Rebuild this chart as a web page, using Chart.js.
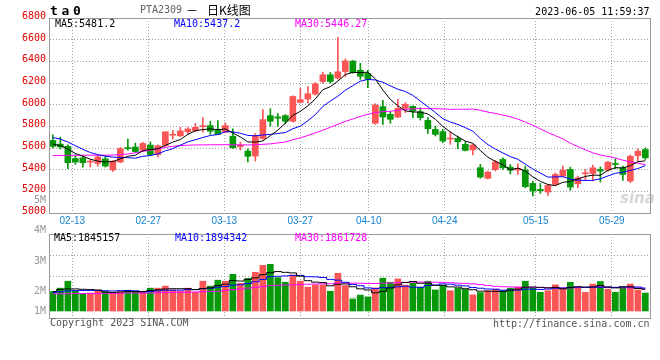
<!DOCTYPE html>
<html>
<head>
<meta charset="utf-8">
<script src="https://cdn.jsdelivr.net/npm/chart.js@4.4.1/dist/chart.umd.min.js"></script>
<style>
  html, body { margin: 0; padding: 0; background: #fff; }
  #wrap { position: relative; width: 660px; height: 360px; overflow: hidden; background: #fff; }
  #wrap canvas { position: absolute; left: 0; }
  #kline { top: 0; }
  #vol { top: 190px; }
</style>
</head>
<body>
<div id="wrap">
  <canvas id="kline" width="660" height="228"></canvas>
  <canvas id="vol" width="660" height="170"></canvas>
</div>
<script>
// PTA2309 daily K line, 2023-02-08 .. 2023-06-05 (80 trading days)
const openPrices = [
  5670, 5636, 5615, 5503, 5509, 5470, 5458, 5500, 5397, 5470,
  5603, 5609, 5579, 5627, 5539, 5624, 5718, 5712, 5749, 5758,
  5797, 5807, 5765, 5746, 5709, 5612, 5572, 5526, 5688, 5899,
  5887, 5899, 5847, 6021, 6052, 6098, 6214, 6276, 6245, 6306,
  6403, 6317, 6289, 5828, 5982, 5911, 5886, 5966, 5985, 5935,
  5855, 5772, 5751, 5683, 5689, 5634, 5582, 5418, 5320, 5400,
  5494, 5423, 5396, 5396, 5273, 5218, 5194, 5264, 5341, 5402,
  5270, 5362, 5365, 5402, 5396, 5454, 5417, 5295, 5530, 5586
];
const highPrices = [
  5721, 5700, 5630, 5539, 5524, 5494, 5530, 5524, 5485, 5606,
  5682, 5645, 5652, 5655, 5630, 5752, 5764, 5791, 5788, 5827,
  5880, 5847, 5853, 5832, 5777, 5654, 5593, 5734, 5954, 5963,
  5917, 5908, 6082, 6153, 6168, 6205, 6300, 6297, 6621, 6422,
  6406, 6382, 6317, 6009, 6040, 5935, 6049, 6018, 5990, 5972,
  5880, 5803, 5772, 5751, 5711, 5658, 5634, 5449, 5388, 5486,
  5509, 5448, 5454, 5432, 5295, 5273, 5264, 5371, 5432, 5423,
  5341, 5402, 5442, 5426, 5478, 5500, 5432, 5534, 5592, 5601
];
const lowPrices = [
  5600, 5591, 5409, 5449, 5424, 5424, 5433, 5424, 5382, 5464,
  5579, 5561, 5567, 5530, 5518, 5615, 5682, 5706, 5730, 5749,
  5745, 5725, 5725, 5740, 5596, 5581, 5471, 5480, 5679, 5801,
  5801, 5822, 5838, 6015, 6015, 6089, 6199, 6199, 6236, 6260,
  6290, 6234, 6157, 5818, 5818, 5828, 5880, 5926, 5880, 5858,
  5735, 5711, 5649, 5634, 5594, 5572, 5535, 5320, 5314, 5388,
  5402, 5360, 5356, 5233, 5157, 5181, 5163, 5255, 5334, 5209,
  5233, 5304, 5295, 5285, 5387, 5408, 5301, 5279, 5478, 5494
];
const closePrices = [
  5615, 5609, 5464, 5470, 5464, 5476, 5518, 5433, 5479, 5594,
  5594, 5567, 5642, 5539, 5621, 5749, 5724, 5758, 5776, 5791,
  5801, 5755, 5725, 5807, 5602, 5624, 5523, 5716, 5862, 5847,
  5875, 5847, 6076, 6046, 6101, 6193, 6276, 6214, 6303, 6404,
  6295, 6262, 6234, 5997, 5886, 5865, 5966, 6003, 5942, 5880,
  5778, 5726, 5665, 5689, 5658, 5578, 5628, 5332, 5378, 5471,
  5417, 5395, 5411, 5243, 5203, 5206, 5255, 5356, 5396, 5239,
  5325, 5371, 5417, 5387, 5469, 5448, 5356, 5524, 5570, 5509
];
const ma5 = [
  5636, 5622, 5590, 5550, 5524.4, 5496.6, 5478.4, 5472.2, 5474, 5500,
  5523.6, 5533.4, 5575.2, 5587.2, 5592.6, 5623.6, 5655, 5678.2, 5725.6, 5759.6,
  5770, 5776.2, 5769.6, 5775.8, 5738, 5702.6, 5656.2, 5654.4, 5665.4, 5714.4,
  5764.6, 5829.4, 5901.4, 5938.2, 5989, 6052.6, 6138.4, 6166, 6217.4, 6278,
  6298.4, 6295.6, 6299.6, 6238.4, 6134.8, 6048.8, 5989.6, 5943.4, 5932.4, 5931.2,
  5913.8, 5865.8, 5798.2, 5747.6, 5703.2, 5663.2, 5643.6, 5577, 5514.8, 5477.4,
  5445.2, 5398.6, 5414.4, 5387.4, 5333.8, 5291.6, 5263.6, 5252.6, 5283.2, 5290.4,
  5314.2, 5337.4, 5349.6, 5347.8, 5393.8, 5418.4, 5415.4, 5436.8, 5473.4, 5481.4
];
const ma10 = [
  5697, 5682, 5655, 5621, 5588, 5558, 5538, 5525, 5516, 5512.2,
  5510.1, 5505.9, 5523.7, 5530.6, 5546.3, 5573.6, 5594.2, 5626.7, 5656.4, 5676.1,
  5696.8, 5715.6, 5723.9, 5750.7, 5748.8, 5736.3, 5716.2, 5712, 5720.6, 5726.2,
  5733.6, 5742.8, 5777.9, 5801.8, 5851.7, 5908.6, 5983.9, 6033.7, 6077.8, 6133.5,
  6175.5, 6217, 6232.8, 6227.9, 6206.4, 6173.6, 6142.6, 6121.5, 6085.4, 6033,
  5981.3, 5927.7, 5870.8, 5840, 5817.2, 5788.5, 5754.7, 5687.6, 5631.2, 5590.3,
  5554.2, 5521.1, 5495.7, 5451.1, 5405.6, 5368.4, 5331.1, 5333.5, 5335.3, 5312.1,
  5302.9, 5300.5, 5301.1, 5315.5, 5342.1, 5366.3, 5376.4, 5393.2, 5410.6, 5437.6
];
const ma30 = [
  5530, 5531, 5532, 5532, 5533, 5533, 5534, 5534, 5535, 5538,
  5545, 5556, 5568, 5580, 5592, 5605, 5615, 5622, 5626, 5628,
  5629, 5630, 5630, 5631, 5630, 5629, 5628, 5630, 5634, 5638.2,
  5646.8, 5654.8, 5675.2, 5694.4, 5715.6, 5739.5, 5764.8, 5790.8, 5818.3, 5845.3,
  5868.6, 5891.8, 5911.5, 5926.8, 5935.6, 5939.5, 5947.6, 5955.7, 5961.3, 5964.2,
  5963.5, 5962.5, 5960.5, 5956.6, 5958.4, 5956.9, 5960.4, 5947.6, 5931.5, 5918.9,
  5903.7, 5888.6, 5866.4, 5839.7, 5809.7, 5776.8, 5742.8, 5714.2, 5684, 5645.1,
  5612.8, 5583.1, 5555.9, 5535.5, 5521.6, 5507.7, 5487.4, 5471.4, 5459, 5446.7
];

// volume, in millions
const volume = [
  1.76, 1.89, 2.16, 1.77, 1.65, 1.70, 1.81, 1.76, 1.68, 1.75,
  1.81, 1.77, 1.77, 1.89, 1.89, 1.97, 1.82, 1.77, 1.89, 1.73,
  2.16, 1.97, 2.20, 2.16, 2.43, 2.08, 2.27, 2.51, 2.78, 2.82,
  2.30, 2.12, 2.40, 2.16, 1.93, 2.02, 2.02, 1.77, 2.47, 1.99,
  1.47, 1.62, 1.55, 1.90, 2.28, 2.12, 2.25, 2.01, 2.09, 1.93,
  2.16, 1.82, 2.00, 1.79, 1.89, 1.84, 1.63, 1.72, 1.79, 1.85,
  1.79, 1.89, 1.94, 2.16, 1.89, 1.73, 1.79, 2.02, 1.89, 2.12,
  1.90, 1.73, 2.05, 2.15, 1.85, 1.73, 1.93, 2.05, 1.82, 1.70
];
const volMa5 = [
  1.76, 1.84, 1.86, 1.86, 1.846, 1.834, 1.818, 1.738, 1.72, 1.74,
  1.762, 1.754, 1.756, 1.798, 1.826, 1.858, 1.868, 1.868, 1.868, 1.836,
  1.874, 1.904, 1.99, 2.044, 2.184, 2.168, 2.228, 2.29, 2.414, 2.492,
  2.536, 2.506, 2.484, 2.36, 2.182, 2.126, 2.106, 1.98, 2.042, 2.054,
  1.944, 1.864, 1.82, 1.706, 1.764, 1.894, 2.02, 2.112, 2.15, 2.08,
  2.088, 2.002, 2.0, 1.94, 1.932, 1.868, 1.83, 1.774, 1.774, 1.766,
  1.756, 1.808, 1.852, 1.926, 1.934, 1.922, 1.902, 1.918, 1.864, 1.91,
  1.944, 1.932, 1.938, 1.99, 1.936, 1.902, 1.942, 1.942, 1.876, 1.846
];
const volMa10 = [
  1.72, 1.75, 1.78, 1.80, 1.80, 1.80, 1.80, 1.79, 1.78, 1.793,
  1.798, 1.786, 1.747, 1.759, 1.783, 1.81, 1.811, 1.812, 1.833, 1.831,
  1.866, 1.886, 1.929, 1.956, 2.01, 2.021, 2.066, 2.14, 2.229, 2.338,
  2.352, 2.367, 2.387, 2.387, 2.337, 2.331, 2.306, 2.232, 2.201, 2.118,
  2.035, 1.985, 1.90, 1.874, 1.909, 1.919, 1.942, 1.966, 1.928, 1.922,
  1.991, 2.011, 2.056, 2.045, 2.006, 1.978, 1.916, 1.887, 1.857, 1.849,
  1.812, 1.819, 1.813, 1.85, 1.85, 1.839, 1.855, 1.885, 1.895, 1.922,
  1.933, 1.917, 1.928, 1.927, 1.923, 1.923, 1.937, 1.94, 1.933, 1.891
];
const volMa30 = [
  1.67, 1.67, 1.67, 1.68, 1.68, 1.68, 1.68, 1.69, 1.69, 1.69,
  1.70, 1.70, 1.70, 1.70, 1.71, 1.72, 1.72, 1.73, 1.73, 1.74,
  1.75, 1.76, 1.77, 1.80, 1.83, 1.86, 1.89, 1.92, 1.95, 1.987,
  2.005, 2.013, 2.021, 2.034, 2.043, 2.054, 2.061, 2.061, 2.088, 2.096,
  2.084, 2.079, 2.072, 2.072, 2.085, 2.09, 2.105, 2.113, 2.119, 2.126,
  2.126, 2.121, 2.114, 2.102, 2.084, 2.076, 2.055, 2.028, 1.995, 1.963,
  1.946, 1.938, 1.923, 1.923, 1.922, 1.912, 1.904, 1.913, 1.893, 1.898,
  1.912, 1.916, 1.932, 1.941, 1.926, 1.913, 1.903, 1.904, 1.895, 1.887
];

// axis labels
const dateLabels = ['02-13', '02-27', '03-13', '03-27', '04-10', '04-24', '05-15', '05-29'];
const dateIdx = [3, 13, 23, 33, 42, 52, 64, 74];
const priceTicks = [5000, 5200, 5400, 5600, 5800, 6000, 6200, 6400, 6600, 6800];
const volTickLabels = ['5M', '4M', '3M', '2M', '1M'];
const priceLegend = ['MA5:5481.2', 'MA10:5437.2', 'MA30:5446.27'];
const volLegend = ['MA5:1845157', 'MA10:1894342', 'MA30:1861728'];

// ---- layout / style ----
const RED = '#fa5656';
const GREEN = '#08990a';
const MA_COLORS = ['#000000', '#0000ff', '#ff00ff'];
const MONO = '"DejaVu Sans Mono", "Liberation Mono", monospace';
const CJK = '"Noto Sans CJK SC", "Noto Sans", sans-serif';
const X_MIN = -0.38, X_MAX = 79.62;
const GRID_STEP = 7.6 / 7.5;   // the date grid runs a touch wider than the bars
const GRID_SHIFT = -0.447;
const VOL_TOP = 190;            // top of the volume canvas in the page
const volLabelY = [200, 230, 261, 291, 311];

const isUp = i => closePrices[i] >= openPrices[i];
const candleColor = ctx => isUp(ctx.dataIndex) ? RED : GREEN;
const pts = arr => arr.map((v, i) => ({ x: i, y: v }));

function xAxis(showLabels, height) {
  return {
    type: 'linear',
    min: X_MIN,
    max: X_MAX,
    offset: false,
    afterBuildTicks: s => { s.ticks = dateIdx.map(i => ({ value: i * GRID_STEP + GRID_SHIFT })); },
    afterFit: s => { s.height = height; },
    grid: { offset: false, color: '#a0a0a0', lineWidth: 1, drawTicks: false },
    border: { display: false, dash: [1, 2] },
    ticks: {
      display: showLabels,
      autoSkip: false,
      maxRotation: 0,
      padding: 2,
      color: '#1582d0',
      font: { family: '"Liberation Sans Narrow", "Liberation Sans", sans-serif', size: 10 },
      callback: (v, i) => dateLabels[i]
    }
  };
}

function maLine(data, color, stepped) {
  return {
    type: 'line', data: pts(data), borderColor: color, borderWidth: 1,
    pointRadius: 0, tension: 0, stepped: stepped, order: 0
  };
}

function label(ctx, str, x, y, color, font, align) {
  ctx.fillStyle = color;
  ctx.font = font;
  ctx.textAlign = align || 'left';
  ctx.textBaseline = 'middle';
  ctx.fillText(str, x, y);
}

// gray box round the plot area
const frame = {
  id: 'frame',
  afterDatasetsDraw(chart) {
    const { ctx, chartArea: a } = chart;
    ctx.save();
    ctx.strokeStyle = '#9a9a9a';
    ctx.lineWidth = 1;
    ctx.strokeRect(a.left - 0.5, a.top + 0.5, a.right - a.left + 1, a.bottom - a.top);
    ctx.restore();
  }
};

const klineText = {
  id: 'klineText',
  beforeDatasetsDraw(chart) {
    const ctx = chart.ctx;
    ctx.save();
    ctx.fillStyle = 'rgba(200, 200, 200, 0.75)';
    ctx.font = 'italic bold 15px "DejaVu Sans", sans-serif';
    ctx.textBaseline = 'alphabetic';
    ctx.fillText('sina', 620, 203);
    ctx.restore();
  },
  afterDraw(chart) {
    const ctx = chart.ctx;
    ctx.save();
    const bold = 'bold 13px ' + MONO;
    label(ctx, 't', 50, 11.5, '#000', bold);
    label(ctx, 'a', 61.5, 11.5, '#000', bold);
    label(ctx, '0', 73, 11.5, '#000', bold);
    label(ctx, 'PTA2309', 140, 10, '#606060', '10px ' + MONO);
    label(ctx, '－', 186, 10, '#000', '12px ' + CJK);
    label(ctx, '日K线图', 207, 10, '#000', '12px ' + CJK);
    label(ctx, '2023-06-05 11:59:37', 649.5, 12, '#000', '10px ' + MONO, 'right');
    const xs = [55, 174, 295];
    priceLegend.forEach((t, i) => label(ctx, t, xs[i], 24, MA_COLORS[i], '10px ' + MONO));
    ctx.restore();
  }
};

const volText = {
  id: 'volText',
  afterDraw(chart) {
    const ctx = chart.ctx;
    ctx.save();
    volTickLabels.forEach((t, i) => label(ctx, t, 46, volLabelY[i] - VOL_TOP, '#999', '10px ' + MONO, 'right'));
    const xs = [54, 175, 295];
    volLegend.forEach((t, i) => label(ctx, t, xs[i], 238.5 - VOL_TOP, MA_COLORS[i], '10px ' + MONO));
    label(ctx, 'Copyright 2023 SINA.COM', 50, 323 - VOL_TOP, '#555', '10px ' + MONO);
    label(ctx, 'http://finance.sina.com.cn', 649.5, 324 - VOL_TOP, '#555', '10px ' + MONO, 'right');
    ctx.restore();
  }
};

const common = {
  responsive: false,
  animation: false,
  devicePixelRatio: 1,
  events: [],
  plugins: { legend: { display: false }, tooltip: { enabled: false } }
};

// price panel
new Chart(document.getElementById('kline'), {
  type: 'bar',
  data: {
    datasets: [
      maLine(ma5, MA_COLORS[0], false),
      maLine(ma10, MA_COLORS[1], false),
      maLine(ma30, MA_COLORS[2], false),
      {
        type: 'bar', order: 1, grouped: false, barThickness: 6, minBarLength: 1,
        data: openPrices.map((o, i) => ({ x: i, y: [o, closePrices[i]] })),
        backgroundColor: candleColor, borderWidth: 0
      },
      {
        type: 'bar', order: 2, grouped: false, barThickness: 1,
        data: lowPrices.map((l, i) => ({ x: i, y: [l, highPrices[i]] })),
        backgroundColor: candleColor, borderWidth: 0
      }
    ]
  },
  options: {
    ...common,
    layout: { padding: { top: 18, right: 10, left: 0, bottom: 0 } },
    scales: {
      x: xAxis(true, 15),
      y: {
        min: 5000,
        max: 6800,
        afterBuildTicks: s => { s.ticks = priceTicks.map(v => ({ value: v })); },
        afterFit: s => { s.width = 50; },
        grid: { color: '#a0a0a0', lineWidth: 1, drawTicks: false },
        border: { display: false, dash: [1, 2] },
        ticks: {
          padding: 4, labelOffset: -1.5, color: '#e00000',
          font: { family: MONO, size: 10 },
          callback: v => String(v)
        }
      }
    }
  },
  plugins: [frame, klineText]
});

// volume panel
new Chart(document.getElementById('vol'), {
  type: 'bar',
  data: {
    datasets: [
      maLine(volMa5, MA_COLORS[0], 'middle'),
      maLine(volMa10, MA_COLORS[1], 'middle'),
      maLine(volMa30, MA_COLORS[2], 'middle'),
      {
        type: 'bar', order: 1, grouped: false, barThickness: 6, base: 1,
        data: pts(volume), backgroundColor: candleColor, borderWidth: 0
      }
    ]
  },
  options: {
    ...common,
    layout: { padding: { top: 44, right: 10, left: 0, bottom: 0 } },
    scales: {
      x: xAxis(false, 42),
      y: {
        min: 0.727,
        max: 4.0,
        // grid split into quarters of the panel
        afterBuildTicks: s => {
          const step = (s.max - s.min) / 4;
          s.ticks = [0, 1, 2, 3, 4].map(k => ({ value: s.min + k * step }));
        },
        afterFit: s => { s.width = 50; },
        grid: { color: '#a0a0a0', lineWidth: 1, drawTicks: false },
        border: { display: false, dash: [1, 2] },
        ticks: { display: false }
      }
    }
  },
  plugins: [frame, volText]
});
</script>
</body>
</html>
